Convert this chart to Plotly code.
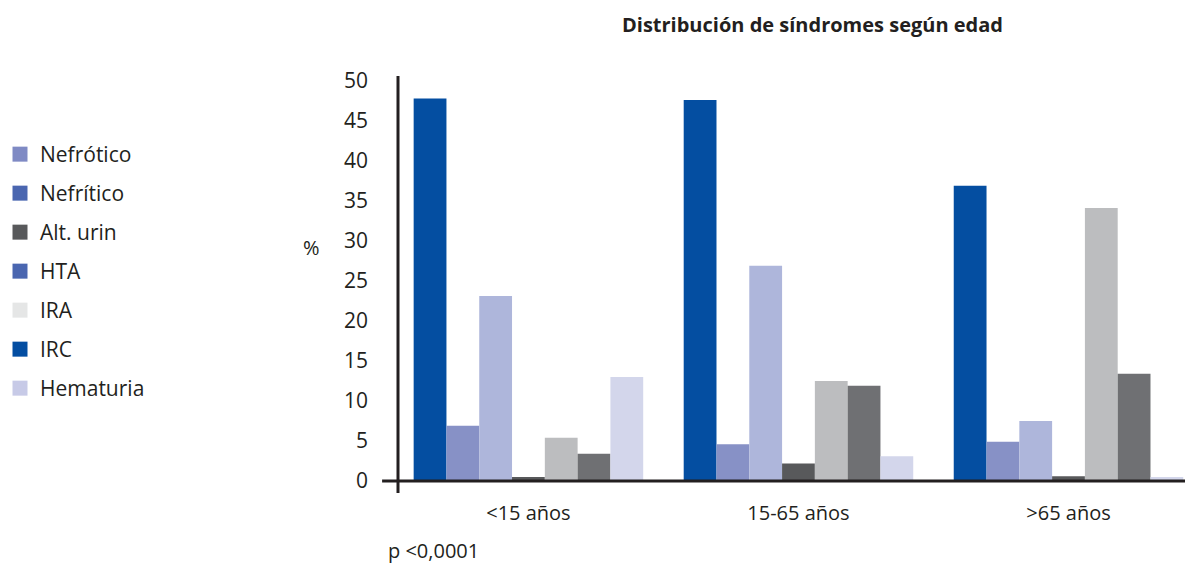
import plotly.graph_objects as go

categories = ["<15 años", "15-65 años", ">65 años"]
series_names = ["Nefrótico", "Nefrítico", "Alt. urin", "HTA", "IRA", "IRC", "Hematuria"]
nefrotico = [47.8, 47.6, 36.9]
nefritico = [6.9, 4.6, 4.9]
alt_urin = [23.1, 26.9, 7.5]
hta = [0.5, 2.2, 0.6]
ira = [5.4, 12.5, 34.1]
irc = [3.4, 11.9, 13.4]
hematuria = [13.0, 3.1, 0.5]
series_values = [nefrotico, nefritico, alt_urin, hta, ira, irc, hematuria]

bar_colors = ["#044ea1", "#8791c6", "#aeb6db", "#58595b", "#bcbdbf", "#6f7073", "#d3d6eb"]
legend_colors = ["#7f8ac4", "#4a66b0", "#58595b", "#4a66b0", "#e5e6e6", "#034ea2", "#c7cae7"]

y_ticks = [0, 5, 10, 15, 20, 25, 30, 35, 40, 45, 50]

FONT = "Open Sans, Noto Sans, sans-serif"
TXT = "#231f20"

fig = go.Figure()
for name, vals, col in zip(series_names, series_values, bar_colors):
    fig.add_trace(go.Bar(x=categories, y=vals, name=name, marker_color=col,
                         marker_line_width=0, showlegend=False))
for i, (name, col) in enumerate(zip(series_names, legend_colors)):
    fig.add_trace(go.Scatter(x=[None], y=[None], mode="markers", name=name,
                             legendgroup=f"g{i}",
                             marker=dict(symbol="square", size=15, color=col)))

fig.update_layout(
    width=1185, height=555,
    margin=dict(l=385, r=0, t=68, b=82),
    paper_bgcolor="white", plot_bgcolor="white",
    font=dict(family=FONT, color=TXT, size=20),
    barmode="group", bargap=0.15, bargroupgap=0,
    showlegend=True,
    legend=dict(xref="paper", yref="paper", x=-393 / 800, y=(481 - 134) / 405,
                xanchor="left", yanchor="top", maxheight=555, indentation=-8,
                font=dict(size=21, color=TXT), tracegroupgap=8.7,
                bgcolor="rgba(0,0,0,0)"),
    xaxis=dict(range=[-0.483, 2.461], showgrid=False, showline=False,
               zeroline=False, ticks="", tickfont=dict(size=20, color=TXT),
               ticklabelstandoff=18),
    yaxis=dict(range=[0, 50.6], tickvals=y_ticks, showgrid=False,
               showline=False, zeroline=False, ticks="",
               tickfont=dict(size=21, color=TXT), ticklabelstandoff=29),
    annotations=[
        dict(text="<b>Distribución de síndromes según edad</b>", xref="paper",
             yref="paper", x=0.521, y=(481 - 25) / 405, xanchor="center",
             yanchor="middle", showarrow=False, font=dict(size=20, color=TXT)),
        dict(text="%", xref="paper", yref="paper", x=-98 / 800,
             y=(481 - 247) / 405, xanchor="left", yanchor="middle",
             showarrow=False, font=dict(size=20, color=TXT)),
        dict(text="p <0,0001", xref="paper", yref="paper", x=-12 / 800,
             y=(481 - 550) / 405, xanchor="left", yanchor="middle",
             showarrow=False, font=dict(size=20, color=TXT)),
    ],
    shapes=[
        dict(type="line", xref="paper", yref="paper", x0=0, x1=0,
             y0=-12 / 405, y1=1, line=dict(color=TXT, width=3)),
        dict(type="line", xref="paper", yref="paper", x0=-16 / 800, x1=1,
             y0=0, y1=0, line=dict(color=TXT, width=3)),
    ],
)

fig.write_html("out.html")
